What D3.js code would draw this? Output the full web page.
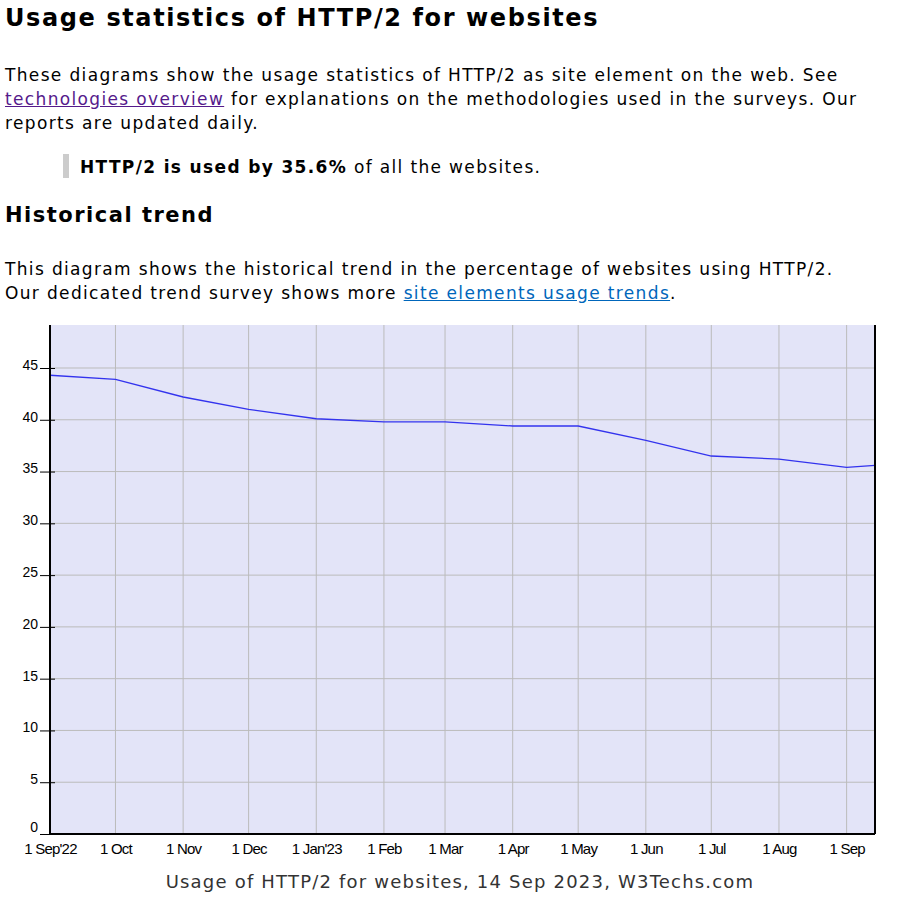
<!DOCTYPE html>
<html><head><meta charset="utf-8">
<script src="https://cdn.jsdelivr.net/npm/d3@7"></script>
<style>
body{margin:0;background:#fff;font-family:"DejaVu Sans",Verdana,sans-serif;color:#000;}
.t{position:absolute;left:5px;white-space:nowrap;}
.p{font-size:17px;line-height:24px;letter-spacing:1.35px;}
a.v{color:#551a8b;} a.b{color:#0066bb;}
</style></head><body>
<div class="t" style="top:4px;font-size:24px;font-weight:bold;letter-spacing:1.6px">Usage statistics of HTTP/2 for websites</div>
<div class="t p" style="top:63px">These diagrams show the usage statistics of HTTP/2 as site element on the web. See<br><a class="v" href="#">technologies overview</a> for explanations on the methodologies used in the surveys. Our<br>reports are updated daily.</div>
<div style="position:absolute;left:63px;top:154px;width:6px;height:24px;background:#ccc"></div>
<div class="t p" style="left:80px;top:155px"><b>HTTP/2 is used by 35.6%</b> of all the websites.</div>
<div class="t" style="top:203px;font-size:21px;font-weight:bold;letter-spacing:1.5px">Historical trend</div>
<div class="t p" style="top:257px">This diagram shows the historical trend in the percentage of websites using HTTP/2.<br>Our dedicated trend survey shows more <a class="b" href="#">site elements usage trends</a>.</div>
<svg id="c" width="908" height="906" style="position:absolute;left:0;top:0;pointer-events:none"></svg>
<script>
const dates=["2022-09-01","2022-10-01","2022-11-01","2022-12-01","2023-01-01","2023-02-01","2023-03-01","2023-04-01","2023-05-01","2023-06-01","2023-07-01","2023-08-01","2023-09-01","2023-09-14"];
const values=[44.3,43.9,42.2,41.0,40.1,39.8,39.8,39.4,39.4,38.0,36.5,36.2,35.4,35.6];
const tickLabels=["1 Sep'22","1 Oct","1 Nov","1 Dec","1 Jan'23","1 Feb","1 Mar","1 Apr","1 May","1 Jun","1 Jul","1 Aug","1 Sep"];
const yTicks=[0,5,10,15,20,25,30,35,40,45];
const p=d3.timeParse("%Y-%m-%d");
const data=dates.map((d,i)=>({d:p(d),v:values[i]}));
const tickDates=dates.slice(0,13).map(p);
const L=50,R=875,T=325,B=834;
const x=d3.scaleTime().domain([p("2022-09-01"),p("2023-09-14")]).range([L,R]);
const y=d3.scaleLinear().domain([0,45]).range([B,368]);
const s=d3.select("#c");
s.append("rect").attr("x",L).attr("y",T).attr("width",R-L).attr("height",B-T).attr("fill","#e3e4f8");
s.append("g").selectAll("line").data(yTicks.slice(1)).join("line").attr("x1",L).attr("x2",R).attr("y1",d=>y(d)).attr("y2",d=>y(d)).attr("stroke","#bbb");
s.append("g").selectAll("line").data(tickDates.slice(1)).join("line").attr("x1",d=>x(d)).attr("x2",d=>x(d)).attr("y1",T).attr("y2",B).attr("stroke","#bbb");
s.append("path").datum(data).attr("fill","none").attr("stroke","#3333ee").attr("stroke-width",1.3).attr("d",d3.line().x(d=>x(d.d)).y(d=>y(d.v)));
const ya=s.append("g").attr("transform",`translate(${L},0)`).call(d3.axisLeft(y).tickValues(yTicks).tickSize(10).tickPadding(2));
ya.select(".domain").attr("d",`M0,${T}V${B}`).attr("stroke","#000").attr("stroke-width",2);
ya.selectAll(".tick line").attr("x1",-10).attr("x2",5).attr("stroke","#000");
ya.selectAll("text").attr("font-family","Liberation Sans,Arial").attr("font-size",14).attr("fill","#000").attr("x",-12).attr("dy","0.1em");
ya.selectAll(".tick").filter(d=>d===0).select("text").attr("dy","-0.2em");
s.append("line").attr("x1",R).attr("x2",R).attr("y1",T).attr("y2",B).attr("stroke","#000").attr("stroke-width",2);
const xa=s.append("g").attr("transform",`translate(0,${B})`).call(d3.axisBottom(x).tickValues(tickDates).tickFormat((d,i)=>tickLabels[i]).tickSize(0).tickPadding(9));
xa.select(".domain").attr("d",`M${L},0H${R}`).attr("stroke","#000").attr("stroke-width",2);
xa.selectAll("text").attr("font-family","Liberation Sans Narrow,Liberation Sans,Arial").attr("font-size",15).attr("fill","#000").attr("letter-spacing","-0.8");
s.append("text").attr("x",460).attr("y",888).attr("text-anchor","middle").attr("font-family","DejaVu Sans").attr("font-size",18).attr("letter-spacing",1.2).attr("fill","#333").text("Usage of HTTP/2 for websites, 14 Sep 2023, W3Techs.com");
</script></body></html>
